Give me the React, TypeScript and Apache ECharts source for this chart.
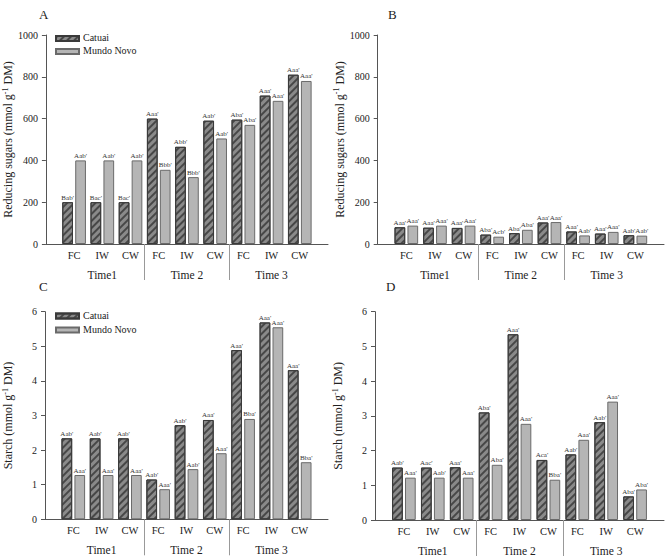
import React, { useEffect, useRef } from "react";
import * as echarts from "echarts";

const treatments = ["FC", "IW", "CW", "FC", "IW", "CW", "FC", "IW", "CW"];
const timeLabels = ["Time1", "Time 2", "Time 3"];
const timeCenters = [1, 4, 7];
const timeSeparators = [2.5, 5.5];
const seriesNames = ["Catuai", "Mundo Novo"];

// A: reducing sugars (leaf)
const sugarACatuai = [200, 200, 200, 600, 465, 590, 595, 710, 810];
const sugarAMundo = [400, 400, 400, 355, 320, 505, 570, 685, 780];
const sugarACatuaiLbl = ["Bab'", "Bac'", "Bac'", "Aaa'", "Abb'", "Aab'", "Aba'", "Aaa'", "Aaa'"];
const sugarAMundoLbl = ["Aab'", "Aab'", "Aab'", "Bbb'", "Bbb'", "Aab'", "Aba'", "Aaa'", "Aaa'"];

// B: reducing sugars
const sugarBCatuai = [80, 78, 77, 45, 52, 103, 60, 50, 42];
const sugarBMundo = [88, 88, 88, 35, 68, 105, 41, 58, 40];
const sugarBCatuaiLbl = ["Aaa'", "Aaa'", "Aaa'", "Aba'", "Aba'", "Aaa'", "Aaa'", "Aaa'", "Aab'"];
const sugarBMundoLbl = ["Aaa'", "Aaa'", "Aaa'", "Acb'", "Aba'", "Aaa'", "Aab'", "Aaa'", "Aab'"];

// C: starch
const starchCCatuai = [2.34, 2.34, 2.34, 1.15, 2.72, 2.87, 4.89, 5.69, 4.31];
const starchCMundo = [1.28, 1.28, 1.28, 0.87, 1.45, 1.91, 2.9, 5.55, 1.65];
const starchCCatuaiLbl = ["Aab'", "Aab'", "Aab'", "Aab'", "Aab'", "Aaa'", "Aaa'", "Aaa'", "Aaa'"];
const starchCMundoLbl = ["Aaa'", "Aaa'", "Aaa'", "Aaa'", "Aab'", "Aaa'", "Bba'", "Aaa'", "Bba'"];

// D: starch
const starchDCatuai = [1.51, 1.51, 1.52, 3.1, 5.35, 1.73, 1.89, 2.82, 0.68];
const starchDMundo = [1.22, 1.22, 1.22, 1.59, 2.77, 1.16, 2.31, 3.41, 0.88];
const starchDCatuaiLbl = ["Aab'", "Aac'", "Aaa'", "Aba'", "Aaa'", "Aca'", "Aab'", "Aab'", "Aba'"];
const starchDMundoLbl = ["Aaa'", "Aab'", "Aaa'", "Aba'", "Aaa'", "Bba'", "Aaa'", "Aaa'", "Aba'"];

const SERIF = "'Liberation Serif', 'Times New Roman', serif";

const panels = [
  { letter: "A", grid: { left: 40, top: 35, width: 288, height: 209 }, yMax: 1000, yInt: 200, title: "sugar", legendY: [37.5, 50.5], data: [sugarACatuai, sugarAMundo], lbl: [sugarACatuaiLbl, sugarAMundoLbl], letterPos: [39, 8] },
  { letter: "B", grid: { left: 377.7, top: 35, width: 287, height: 209 }, yMax: 1000, yInt: 200, title: "sugar", legendY: null, data: [sugarBCatuai, sugarBMundo], lbl: [sugarBCatuaiLbl, sugarBMundoLbl], letterPos: [388, 8] },
  { letter: "C", grid: { left: 40, top: 311.7, width: 288, height: 207.6 }, yMax: 6, yInt: 1, title: "starch", legendY: [315, 329], data: [starchCCatuai, starchCMundo], lbl: [starchCCatuaiLbl, starchCMundoLbl], letterPos: [39, 280] },
  { letter: "D", grid: { left: 375, top: 311.7, width: 290, height: 208.3 }, yMax: 6, yInt: 1, title: "starch", legendY: null, data: [starchDCatuai, starchDMundo], lbl: [starchDCatuaiLbl, starchDMundoLbl], letterPos: [386, 280] },
];

const catuaiStyle = {
  color: "#8a8a8a",
  borderColor: "#3a3a3a",
  borderWidth: 1,
  decal: {
    symbol: "rect",
    symbolSize: 1,
    color: "#474747",
    dashArrayX: [1, 0],
    dashArrayY: [1.1, 2.9],
    rotation: -Math.PI / 4,
  },
};
const mundoStyle = { color: "#b5b5b5", borderColor: "#6a6a6a", borderWidth: 1 };

export default function App() {
  const ref = useRef<HTMLDivElement>(null);
  useEffect(() => {
    if (!ref.current) return;
    const chart = echarts.init(ref.current, undefined, { renderer: "svg" });
    const grids: any[] = [];
    const xAxes: any[] = [];
    const yAxes: any[] = [];
    const series: any[] = [];
    const legends: any[] = [];
    const graphics: any[] = [];
    panels.forEach((p, g) => {
      grids.push({ ...p.grid, containLabel: false });
      xAxes.push({
        type: "value", gridIndex: g, min: -1, max: 9, interval: 1, position: "bottom",
        axisLine: { show: true, onZero: false, lineStyle: { color: "#555", width: 1 } },
        axisTick: { show: false }, splitLine: { show: false },
        axisLabel: {
          margin: 6, fontFamily: SERIF, fontSize: 10.5, color: "#222",
          formatter: (v: number) => (v >= 0 && v <= 8 ? treatments[v] : ""),
        },
      });
      xAxes.push({
        type: "value", gridIndex: g, min: -1, max: 9, position: "bottom",
        axisLine: { show: false, onZero: false },
        axisTick: { show: true, customValues: timeSeparators, length: 36, lineStyle: { color: "#999", width: 1 } },
        splitLine: { show: false },
        axisLabel: {
          customValues: timeCenters, margin: 25, fontFamily: SERIF, fontSize: 11.5, color: "#222",
          formatter: (v: number) => timeLabels[timeCenters.indexOf(v)] ?? "",
        },
      });
      const isSugar = p.title === "sugar";
      yAxes.push({
        type: "value", gridIndex: g, min: 0, max: p.yMax, interval: p.yInt,
        axisLine: { show: true, onZero: false, lineStyle: { color: "#555", width: 1 } },
        axisTick: { show: true, length: 4, lineStyle: { color: "#555" } },
        splitLine: { show: false },
        axisLabel: { margin: 8, fontFamily: SERIF, fontSize: 10, color: "#222", formatter: (v: number) => String(v) },
        name: isSugar
          ? "{a|Reducing sugars (mmol g}{s|-1}{a| DM)}"
          : "{a|Starch (mmol g}{s|-1}{a| DM)}",
        nameLocation: "middle",
        nameGap: 30,
        nameRotate: 90,
        nameTextStyle: {
          rich: {
            a: { fontFamily: SERIF, fontSize: 12, color: "#222" },
            s: { fontFamily: SERIF, fontSize: 8, color: "#222", verticalAlign: "top", padding: [0, 0, 6, 0] },
          },
        },
      });
      p.data.forEach((arr, k) => {
        const lbls = p.lbl[k];
        series.push({
          type: "bar",
          name: seriesNames[k],
          xAxisIndex: 2 * g,
          yAxisIndex: g,
          barWidth: 10.7,
          barGap: "21%",
          data: arr.map((v, i) => [i, v]),
          itemStyle: k === 0 ? catuaiStyle : mundoStyle,
          label: {
            show: true, position: "top", distance: 1, fontFamily: SERIF, fontSize: 7, color: "#333",
            formatter: (pp: any) => lbls[pp.dataIndex],
          },
        });
      });
      if (p.legendY) {
        seriesNames.forEach((n, k) => {
          const cy = (p.legendY as number[])[k];
          legends.push({
            data: [{ name: n, icon: "rect" }], orient: "vertical", left: 50, top: cy - 7.5,
            itemWidth: 23, itemHeight: 5, selectedMode: false,
            formatter: () => "",
            textStyle: { fontSize: 5, lineHeight: 5 },
          });
          graphics.push({
            type: "text", x: 83, y: cy,
            style: { text: n, font: `10px ${SERIF}`, fill: "#222", verticalAlign: "middle", align: "left" },
          });
        });
      }
      graphics.push({
        type: "text", left: p.letterPos[0], top: p.letterPos[1],
        style: { text: p.letter, font: `13px ${SERIF}`, fill: "#222" },
      });
    });
    chart.setOption({
      animation: false,
      backgroundColor: "#ffffff",
      textStyle: { fontFamily: SERIF },
      grid: grids,
      xAxis: xAxes,
      yAxis: yAxes,
      legend: legends,
      series,
      graphic: graphics,
    });
    return () => chart.dispose();
  }, []);
  return (
    <div
      ref={ref}
      style={{ position: "absolute", left: 0, top: 0, width: 667, height: 559, background: "#fff" }}
    />
  );
}
